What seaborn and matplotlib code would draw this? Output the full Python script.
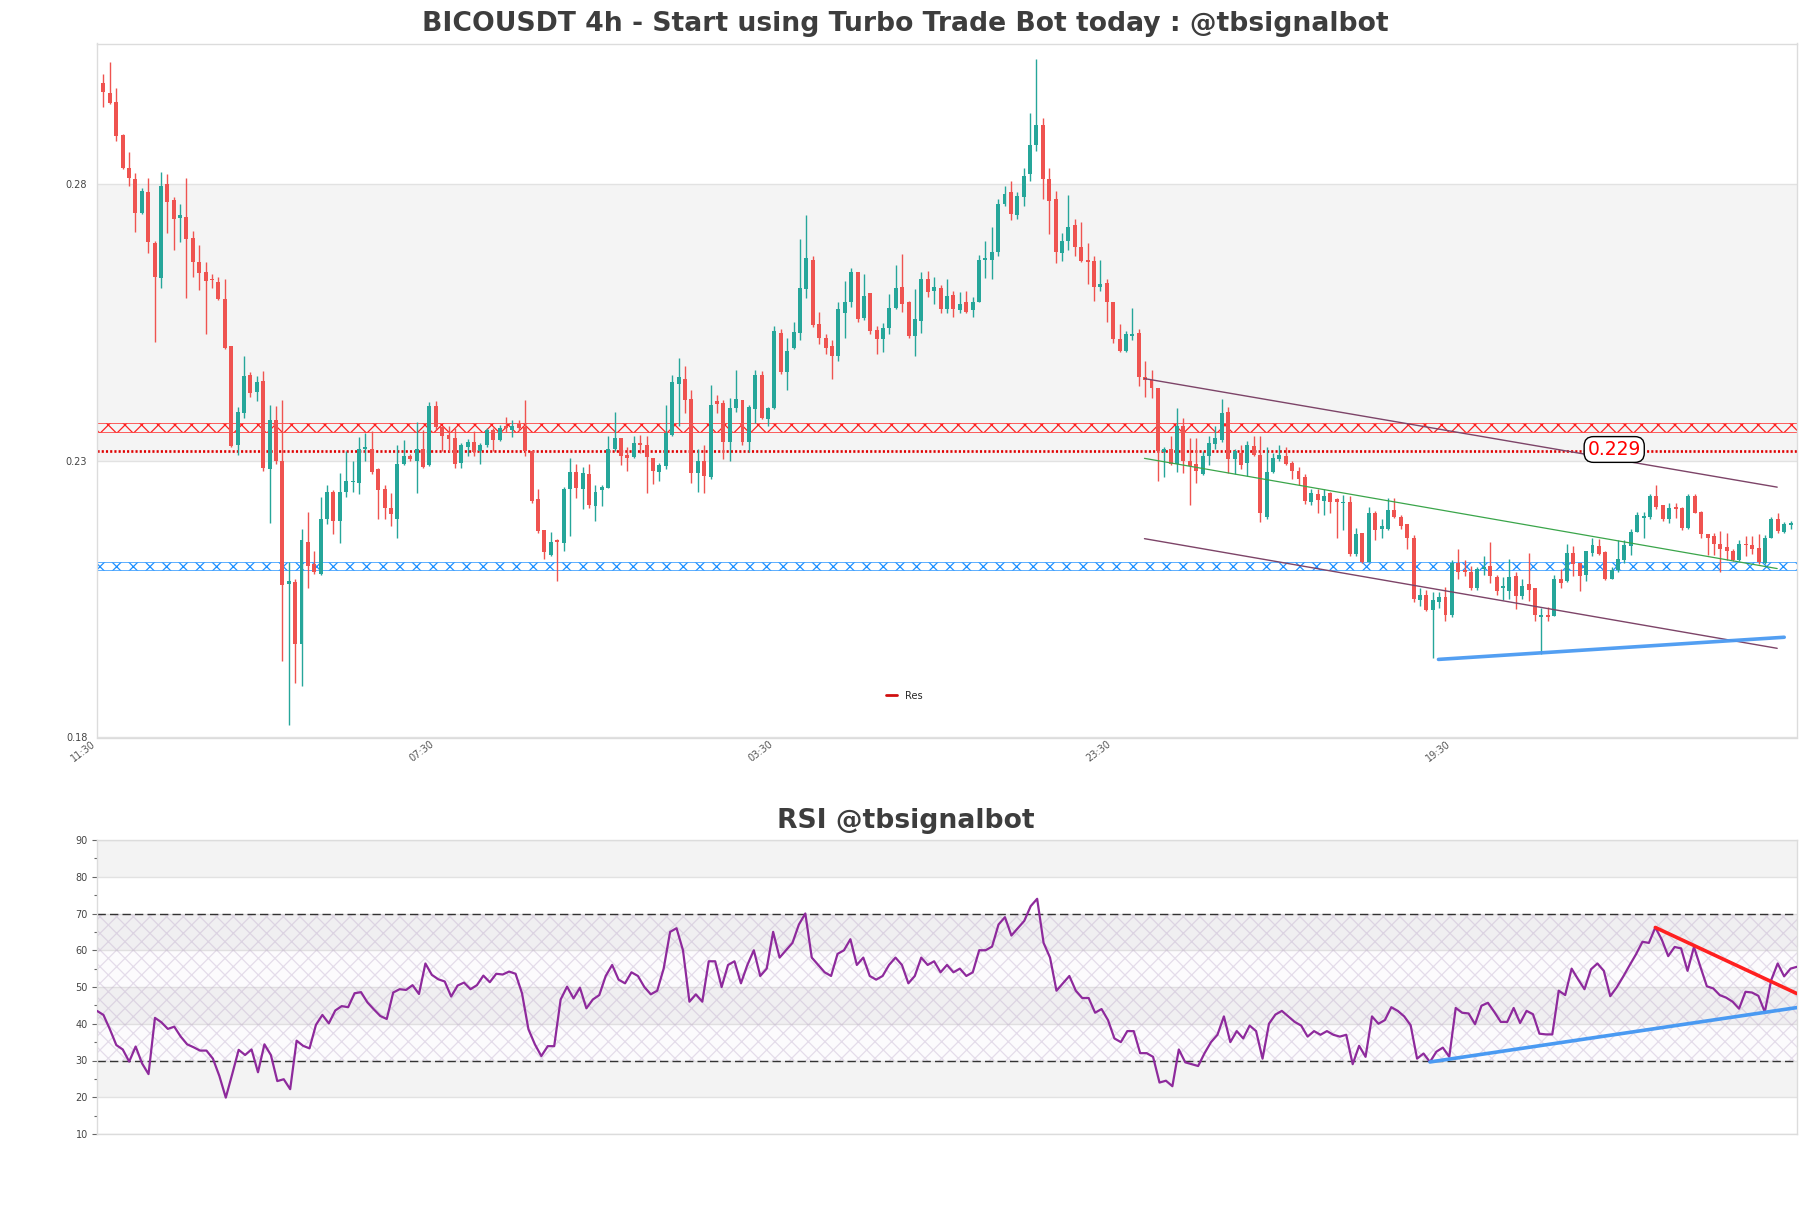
import numpy as np
import matplotlib
matplotlib.use("Agg")
import matplotlib.pyplot as plt
from matplotlib.lines import Line2D
import seaborn as sns

# ---------------- data ----------------
open_ = [
0.2982,0.2964,0.2947,0.2888,0.2829,0.2809,0.2747,0.2784,0.2693,0.2630,
0.2800,0.2770,0.2738,0.2740,0.2701,0.2659,0.2640,0.2628,0.2623,0.2592,
0.2506,0.2328,0.2386,0.2455,0.2424,0.2443,0.2284,0.2374,0.2300,0.2077,
0.2080,0.1969,0.2153,0.2114,0.2096,0.2195,0.2244,0.2190,0.2244,0.2261,
0.2260,0.2321,0.2321,0.2284,0.2248,0.2215,0.2195,0.2294,0.2308,0.2300,
0.2320,0.2292,0.2399,0.2361,0.2346,0.2341,0.2296,0.2325,0.2333,0.2317,
0.2328,0.2355,0.2338,0.2363,0.2355,0.2366,0.2361,0.2318,0.2230,0.2174,
0.2129,0.2157,0.2152,0.2248,0.2280,0.2248,0.2276,0.2218,0.2246,0.2251,
0.2320,0.2340,0.2310,0.2306,0.2332,0.2328,0.2305,0.2280,0.2290,0.2347,
0.2439,0.2447,0.2411,0.2278,0.2300,0.2270,0.2407,0.2404,0.2333,0.2395,
0.2409,0.2333,0.2394,0.2455,0.2375,0.2395,0.2530,0.2459,0.2504,0.2530,
0.2610,0.2662,0.2546,0.2522,0.2506,0.2489,0.2566,0.2586,0.2640,0.2558,
0.2603,0.2536,0.2520,0.2540,0.2575,0.2613,0.2586,0.2525,0.2552,0.2628,
0.2607,0.2611,0.2574,0.2599,0.2572,0.2586,0.2572,0.2587,0.2663,0.2663,
0.2677,0.2763,0.2784,0.2743,0.2775,0.2818,0.2869,0.2905,0.2809,0.2772,
0.2675,0.2697,0.2725,0.2685,0.2663,0.2661,0.2613,0.2621,0.2586,0.2520,
0.2498,0.2525,0.2530,0.2451,0.2445,0.2431,0.2316,0.2321,0.2294,0.2363,
0.2300,0.2294,0.2276,0.2308,0.2330,0.2337,0.2387,0.2302,0.2313,0.2296,
0.2326,0.2310,0.2198,0.2280,0.2302,0.2308,0.2296,0.2282,0.2271,0.2226,
0.2240,0.2227,0.2242,0.2230,0.2223,0.2226,0.2131,0.2169,0.2117,0.2205,
0.2177,0.2177,0.2210,0.2198,0.2185,0.2161,0.2048,0.2058,0.2030,0.2044,
0.2054,0.2022,0.2115,0.2103,0.2099,0.2070,0.2104,0.2109,0.2090,0.2070,
0.2064,0.2091,0.2056,0.2078,0.2070,0.2018,0.2022,0.2020,0.2086,0.2082,
0.2133,0.2115,0.2094,0.2133,0.2145,0.2135,0.2087,0.2103,0.2121,0.2145,
0.2171,0.2197,0.2198,0.2236,0.2220,0.2194,0.2217,0.2215,0.2179,0.2236,
0.2207,0.2167,0.2163,0.2149,0.2144,0.2137,0.2121,0.2149,0.2147,0.2143,
0.2115,0.2161,0.2194,0.2171,0.2184]

high = [
0.2998,0.3020,0.2973,0.2890,0.2858,0.2820,0.2792,0.2810,0.2697,0.2821,
0.2817,0.2776,0.2764,0.2810,0.2715,0.2689,0.2659,0.2637,0.2632,0.2627,
0.2507,0.2397,0.2488,0.2459,0.2453,0.2461,0.2400,0.2399,0.2409,0.2117,
0.2086,0.2177,0.2208,0.2137,0.2234,0.2256,0.2246,0.2278,0.2318,0.2300,
0.2342,0.2350,0.2354,0.2286,0.2256,0.2242,0.2328,0.2338,0.2312,0.2369,
0.2355,0.2405,0.2407,0.2363,0.2363,0.2359,0.2332,0.2339,0.2353,0.2332,
0.2359,0.2358,0.2365,0.2379,0.2373,0.2373,0.2409,0.2318,0.2248,0.2174,
0.2171,0.2159,0.2252,0.2305,0.2294,0.2288,0.2294,0.2256,0.2256,0.2345,
0.2387,0.2341,0.2324,0.2345,0.2347,0.2345,0.2305,0.2296,0.2400,0.2455,
0.2485,0.2471,0.2427,0.2320,0.2328,0.2437,0.2419,0.2409,0.2413,0.2464,
0.2409,0.2400,0.2463,0.2461,0.2397,0.2543,0.2538,0.2521,0.2550,0.2700,
0.2744,0.2670,0.2568,0.2528,0.2518,0.2586,0.2624,0.2648,0.2640,0.2637,
0.2603,0.2543,0.2548,0.2600,0.2653,0.2673,0.2588,0.2609,0.2640,0.2643,
0.2632,0.2617,0.2627,0.2607,0.2605,0.2607,0.2595,0.2671,0.2697,0.2721,
0.2772,0.2796,0.2804,0.2784,0.2828,0.2927,0.3025,0.2919,0.2829,0.2786,
0.2710,0.2779,0.2737,0.2730,0.2693,0.2670,0.2663,0.2628,0.2586,0.2546,
0.2534,0.2576,0.2538,0.2480,0.2464,0.2431,0.2324,0.2344,0.2395,0.2377,
0.2340,0.2340,0.2318,0.2344,0.2363,0.2411,0.2397,0.2320,0.2328,0.2336,
0.2344,0.2345,0.2324,0.2313,0.2329,0.2324,0.2300,0.2288,0.2275,0.2248,
0.2248,0.2248,0.2244,0.2232,0.2238,0.2236,0.2179,0.2169,0.2217,0.2209,
0.2194,0.2232,0.2232,0.2201,0.2186,0.2165,0.2070,0.2067,0.2062,0.2062,
0.2072,0.2121,0.2141,0.2120,0.2109,0.2107,0.2128,0.2153,0.2094,0.2090,
0.2123,0.2098,0.2086,0.2133,0.2070,0.2034,0.2036,0.2094,0.2105,0.2149,
0.2145,0.2115,0.2137,0.2161,0.2159,0.2137,0.2107,0.2157,0.2157,0.2177,
0.2208,0.2208,0.2239,0.2256,0.2220,0.2223,0.2224,0.2217,0.2239,0.2239,
0.2209,0.2167,0.2169,0.2173,0.2169,0.2141,0.2157,0.2163,0.2163,0.2167,
0.2165,0.2199,0.2205,0.2189,0.2190]

low = [
0.2939,0.2944,0.2877,0.2826,0.2796,0.2712,0.2745,0.2675,0.2514,0.2612,
0.2711,0.2680,0.2695,0.2594,0.2632,0.2608,0.2529,0.2612,0.2590,0.2502,
0.2324,0.2310,0.2377,0.2415,0.2407,0.2282,0.2187,0.2294,0.1939,0.1822,
0.1898,0.1893,0.2070,0.2096,0.2094,0.2185,0.2167,0.2152,0.2235,0.2244,
0.2240,0.2300,0.2276,0.2195,0.2194,0.2181,0.2160,0.2292,0.2300,0.2242,
0.2286,0.2290,0.2355,0.2318,0.2316,0.2286,0.2286,0.2308,0.2308,0.2294,
0.2324,0.2318,0.2336,0.2352,0.2342,0.2355,0.2308,0.2223,0.2169,0.2123,
0.2127,0.2083,0.2137,0.2163,0.2232,0.2212,0.2215,0.2191,0.2218,0.2250,
0.2318,0.2292,0.2282,0.2305,0.2314,0.2242,0.2258,0.2263,0.2284,0.2345,
0.2363,0.2385,0.2260,0.2244,0.2242,0.2266,0.2385,0.2302,0.2300,0.2387,
0.2328,0.2316,0.2367,0.2375,0.2363,0.2393,0.2456,0.2427,0.2501,0.2517,
0.2594,0.2542,0.2510,0.2493,0.2447,0.2479,0.2522,0.2578,0.2551,0.2554,
0.2528,0.2493,0.2496,0.2528,0.2574,0.2568,0.2522,0.2488,0.2530,0.2595,
0.2583,0.2567,0.2567,0.2559,0.2566,0.2566,0.2559,0.2586,0.2629,0.2627,
0.2669,0.2759,0.2734,0.2737,0.2759,0.2805,0.2859,0.2772,0.2709,0.2657,
0.2661,0.2681,0.2669,0.2659,0.2619,0.2588,0.2607,0.2550,0.2512,0.2496,
0.2496,0.2518,0.2435,0.2415,0.2413,0.2264,0.2271,0.2292,0.2280,0.2278,
0.2220,0.2260,0.2274,0.2292,0.2320,0.2334,0.2278,0.2276,0.2284,0.2272,
0.2308,0.2189,0.2194,0.2278,0.2300,0.2292,0.2266,0.2256,0.2222,0.2220,
0.2205,0.2202,0.2205,0.2160,0.2175,0.2128,0.2128,0.2115,0.2117,0.2157,
0.2161,0.2175,0.2196,0.2177,0.2141,0.2044,0.2038,0.2028,0.1943,0.2034,
0.2010,0.2018,0.2086,0.2091,0.2066,0.2067,0.2094,0.2079,0.2058,0.2048,
0.2050,0.2032,0.2050,0.2046,0.2010,0.1951,0.2010,0.2020,0.2070,0.2080,
0.2092,0.2064,0.2082,0.2128,0.2129,0.2084,0.2086,0.2099,0.2115,0.2129,
0.2171,0.2161,0.2194,0.2213,0.2191,0.2187,0.2197,0.2175,0.2177,0.2205,
0.2160,0.2129,0.2129,0.2098,0.2121,0.2119,0.2119,0.2128,0.2131,0.2113,
0.2113,0.2160,0.2169,0.2169,0.2177]

close = [
0.2965,0.2946,0.2886,0.2829,0.2810,0.2747,0.2786,0.2695,0.2631,0.2796,
0.2767,0.2737,0.2743,0.2700,0.2659,0.2639,0.2625,0.2626,0.2592,0.2504,
0.2326,0.2387,0.2453,0.2422,0.2441,0.2287,0.2374,0.2300,0.2076,0.2082,
0.1969,0.2157,0.2110,0.2098,0.2195,0.2244,0.2190,0.2244,0.2264,0.2263,
0.2320,0.2324,0.2280,0.2246,0.2215,0.2204,0.2294,0.2308,0.2302,0.2320,
0.2288,0.2399,0.2361,0.2344,0.2339,0.2294,0.2328,0.2333,0.2316,0.2329,
0.2355,0.2337,0.2359,0.2358,0.2363,0.2358,0.2317,0.2227,0.2173,0.2135,
0.2153,0.2153,0.2248,0.2280,0.2250,0.2278,0.2220,0.2244,0.2252,0.2321,
0.2340,0.2308,0.2305,0.2332,0.2328,0.2306,0.2282,0.2292,0.2349,0.2441,
0.2451,0.2409,0.2278,0.2300,0.2272,0.2401,0.2402,0.2333,0.2395,0.2411,
0.2333,0.2397,0.2455,0.2377,0.2395,0.2534,0.2459,0.2498,0.2532,0.2611,
0.2665,0.2544,0.2521,0.2504,0.2489,0.2574,0.2586,0.2640,0.2555,0.2598,
0.2534,0.2520,0.2540,0.2576,0.2611,0.2583,0.2525,0.2555,0.2627,0.2605,
0.2613,0.2574,0.2598,0.2574,0.2583,0.2568,0.2587,0.2663,0.2665,0.2677,
0.2763,0.2782,0.2746,0.2778,0.2814,0.2870,0.2905,0.2809,0.2768,0.2677,
0.2697,0.2721,0.2685,0.2661,0.2659,0.2613,0.2619,0.2587,0.2520,0.2498,
0.2528,0.2528,0.2451,0.2445,0.2431,0.2317,0.2321,0.2294,0.2363,0.2300,
0.2290,0.2282,0.2308,0.2332,0.2341,0.2385,0.2302,0.2318,0.2292,0.2328,
0.2310,0.2205,0.2280,0.2304,0.2310,0.2294,0.2282,0.2267,0.2227,0.2242,
0.2228,0.2236,0.2226,0.2225,0.2226,0.2131,0.2167,0.2117,0.2206,0.2175,
0.2181,0.2210,0.2198,0.2181,0.2160,0.2050,0.2058,0.2030,0.2048,0.2054,
0.2022,0.2115,0.2098,0.2098,0.2070,0.2105,0.2107,0.2092,0.2064,0.2074,
0.2090,0.2056,0.2074,0.2067,0.2022,0.2021,0.2018,0.2086,0.2079,0.2133,
0.2113,0.2091,0.2136,0.2147,0.2132,0.2086,0.2103,0.2123,0.2147,0.2171,
0.2201,0.2200,0.2236,0.2217,0.2194,0.2215,0.2213,0.2179,0.2236,0.2206,
0.2167,0.2161,0.2149,0.2141,0.2136,0.2121,0.2149,0.2147,0.2141,0.2117,
0.2161,0.2194,0.2173,0.2186,0.2188]

rsi = [
43.5,42.4,38.5,34.2,33.0,29.7,33.8,29.2,26.3,41.6,
40.4,38.6,39.2,36.5,34.4,33.6,32.7,32.7,30.5,25.8,
19.9,26.3,32.9,31.5,33.0,26.8,34.4,31.5,24.4,24.9,
22.2,35.4,34.0,33.3,39.7,42.4,40.1,43.6,44.8,44.5,
48.3,48.6,45.8,43.9,42.1,41.3,48.5,49.4,49.2,50.5,
48.1,56.4,53.3,52.1,51.5,47.4,50.4,51.2,49.4,50.5,
53.1,51.3,53.6,53.4,54.2,53.6,48.3,38.5,34.4,31.2,
33.9,33.9,46.6,50.1,46.9,49.8,44.2,46.6,47.8,53.0,
56.0,52.0,51.0,54.0,53.0,50.0,48.0,49.0,55.0,65.0,
66.0,60.0,46.0,48.0,46.0,57.0,57.0,50.0,56.0,57.0,
51.0,56.0,60.0,53.0,55.0,65.0,58.0,60.0,62.0,67.0,
70.0,58.0,56.0,54.0,53.0,59.0,60.0,63.0,56.0,58.0,
53.0,52.0,53.0,56.0,58.0,56.0,51.0,53.0,58.0,56.0,
57.0,54.0,56.0,54.0,55.0,53.0,54.0,60.0,60.0,61.0,
67.0,69.0,64.0,66.0,68.0,72.0,74.0,62.0,58.0,49.0,
51.0,53.0,49.0,47.0,47.0,43.0,44.0,41.0,36.0,35.0,
38.0,38.0,32.0,32.0,31.0,24.0,24.5,23.0,33.0,29.5,
29.0,28.5,32.0,35.0,37.0,42.0,35.0,38.0,36.0,39.5,
38.0,30.5,40.0,42.5,43.5,42.0,40.5,39.5,36.5,38.0,
37.0,38.0,37.0,36.5,37.0,29.0,34.0,31.0,42.0,40.0,
41.0,44.5,43.5,42.0,39.6,30.5,31.9,29.6,32.4,33.5,
31.0,44.3,43.0,42.8,39.9,44.9,45.7,43.2,40.5,40.5,
44.3,40.2,43.5,42.6,37.3,37.1,37.1,49.0,47.8,55.0,
52.1,49.4,54.8,56.4,54.4,47.5,49.9,52.8,55.9,58.9,
62.3,62.0,66.2,62.9,58.4,60.9,60.5,54.4,60.9,55.5,
50.2,49.6,47.8,47.1,46.0,44.1,48.7,48.5,47.6,43.2,
51.9,56.4,52.9,55.0,55.5]

x_tick_pos = [-1, 52, 105, 158, 211]
x_tick_labels = ["11:30", "07:30", "03:30", "23:30", "19:30"]
price_ticks = [0.18, 0.23, 0.28]
price_tick_labels = ["0.18", "0.23", "0.28"]
rsi_ticks = [10, 20, 30, 40, 50, 60, 70, 80, 90]

res_band = (0.2352, 0.2367)
res_level = 0.2318
res_label = "0.229"
sup_band = (0.2103, 0.2116)

chan_x = [162.9, 261.9]
chan_upper = [0.2448, 0.2252]
chan_mid = [0.2304, 0.2105]
chan_lower = [0.2159, 0.1961]
support_x = [208.9, 263.0]
support_y = [0.1941, 0.1981]

rsi_up_x = [207, 264]
rsi_up_y = [29.6, 44.4]
rsi_dn_x = [242, 264]
rsi_dn_y = [66.2, 48.2]

title_main = "BICOUSDT 4h - Start using Turbo Trade Bot today : @tbsignalbot"
title_rsi = "RSI @tbsignalbot"

# ---------------- styling ----------------
sns.set_theme(style="white")
plt.rcParams["font.family"] = ["DejaVu Sans"]
plt.rcParams["hatch.linewidth"] = 0.9

W, H = 1811, 1208
fig = plt.figure(figsize=(W / 100, H / 100), dpi=100)
fig.patch.set_facecolor("white")

ax = fig.add_axes([97 / W, 1 - 737.5 / H, 1700 / W, (737.5 - 43.5) / H])
ax2 = fig.add_axes([97 / W, 1 - 1134 / H, 1700 / W, (1134 - 840) / H])

GREEN = "#26a69a"
RED = "#ef5350"
SPINE = "#dcdcdc"
TXT = "#444444"

# ---------------- main price panel ----------------
o = np.array(open_); h = np.array(high); l = np.array(low); c = np.array(close)
x = np.arange(len(c))
cols = np.where(c >= o, GREEN, RED)

ax.axhspan(0.23, 0.28, color="#f4f4f4", zorder=0, lw=0)
for yv in price_ticks:
    ax.axhline(yv, color="#e2e2e2", lw=1.0, zorder=0.5)

ax.vlines(x, l, h, colors=cols, lw=1.0, zorder=3)
body = np.maximum(np.abs(c - o), 0.00012)
ax.bar(x, body, bottom=np.minimum(o, c), width=0.62, color=cols, lw=0, zorder=4)

# resistance / support zones
ax.axhspan(res_band[0], res_band[1], facecolor="none", edgecolor="#ff2020",
           hatch="xx", lw=0.5, zorder=2)
ax.axhspan(sup_band[0], sup_band[1], facecolor="none", edgecolor="#1e90ff",
           hatch="xx", lw=0.5, zorder=2)
ax.axhline(res_level, color="#e00000", lw=1.9, ls=(0, (0.8, 0.8)), zorder=2.5)
ax.text(236.4, res_level + 0.0002, res_label, color="red", fontsize=13.5,
        ha="center", va="center", zorder=6,
        bbox=dict(boxstyle="round,pad=0.18,rounding_size=0.5", fc="white", ec="black", lw=1))

# channel lines
sns.lineplot(x=chan_x, y=chan_upper, ax=ax, color="#7d4468", lw=1.0, zorder=5)
sns.lineplot(x=chan_x, y=chan_lower, ax=ax, color="#7d4468", lw=1.0, zorder=5)
sns.lineplot(x=chan_x, y=chan_mid, ax=ax, color="#3aa54a", lw=0.9, zorder=5)
sns.lineplot(x=support_x, y=support_y, ax=ax, color="#4a9af2", lw=2.6, alpha=0.95, zorder=5)

ax.set_xlim(-1, 265)
ax.set_ylim(0.18, 0.3053)
ax.set_yticks(price_ticks)
ax.set_yticklabels(price_tick_labels)
ax.set_xticks(x_tick_pos)
ax.set_xticklabels(x_tick_labels, rotation=37, ha="right")
ax.tick_params(axis="y", length=0, pad=7, labelsize=7, labelcolor=TXT)
ax.tick_params(axis="x", length=0, pad=1, labelsize=7, labelcolor="#555555")
ax.grid(False)
for s in ax.spines.values():
    s.set_color(SPINE); s.set_linewidth(1.0)

leg_handle = Line2D([], [], color="#d01010", lw=2)
ax.legend([leg_handle], ["Res"], loc="center", bbox_to_anchor=(0.475, 0.06),
          frameon=False, fontsize=7, handlelength=1.1, handletextpad=0.9)

# ---------------- RSI panel ----------------
for lo_, hi_ in [(20, 30), (40, 50), (60, 70), (80, 90)]:
    ax2.axhspan(lo_, hi_, color="#f3f3f3", lw=0, zorder=0)
for yv in rsi_ticks:
    ax2.axhline(yv, color="#e2e2e2", lw=1.0, zorder=0.5)
ax2.axhspan(30, 70, facecolor=(0.55, 0.3, 0.65, 0.02), edgecolor=(0.72, 0.64, 0.78, 0.35),
            hatch="xx", lw=0, zorder=1)
ax2.axhline(30, color="#333333", lw=1.0, ls=(0, (6, 3)), zorder=2)
ax2.axhline(70, color="#333333", lw=1.0, ls=(0, (6, 3)), zorder=2)

xr = np.arange(len(rsi))
sns.lineplot(x=xr, y=rsi, ax=ax2, color="#8e2a9c", lw=1.6, zorder=4)
sns.lineplot(x=rsi_up_x, y=rsi_up_y, ax=ax2, color="#4a9af2", lw=2.6, zorder=5)
sns.lineplot(x=rsi_dn_x, y=rsi_dn_y, ax=ax2, color="#ff2020", lw=2.6, zorder=5)

ax2.set_xlim(0, len(rsi) - 1)
ax2.set_ylim(10, 90)
ax2.set_yticks(rsi_ticks)
ax2.set_yticks([15, 25, 35, 45, 55, 65, 75, 85], minor=True)
ax2.set_xticks([])
ax2.set_xlabel(""); ax2.set_ylabel("")
ax.set_xlabel(""); ax.set_ylabel("")
ax2.tick_params(axis="y", which="major", length=3.5, width=0.8, color="#666666",
                pad=3, labelsize=7, labelcolor=TXT, left=True)
ax2.tick_params(axis="y", which="minor", length=2, width=0.8, color="#666666", left=True)
ax2.grid(False)
for s in ax2.spines.values():
    s.set_color(SPINE); s.set_linewidth(1.0)

# ---------------- titles ----------------
fig.text(0.5, 1 - 24 / H, title_main, ha="center", va="center",
         fontsize=19.2, fontweight="bold", color="#3d3d3d")
fig.text(0.5, 1 - 821 / H, title_rsi, ha="center", va="center",
         fontsize=19.2, fontweight="bold", color="#3d3d3d")

fig.savefig("out.png", dpi=100, facecolor="white")
